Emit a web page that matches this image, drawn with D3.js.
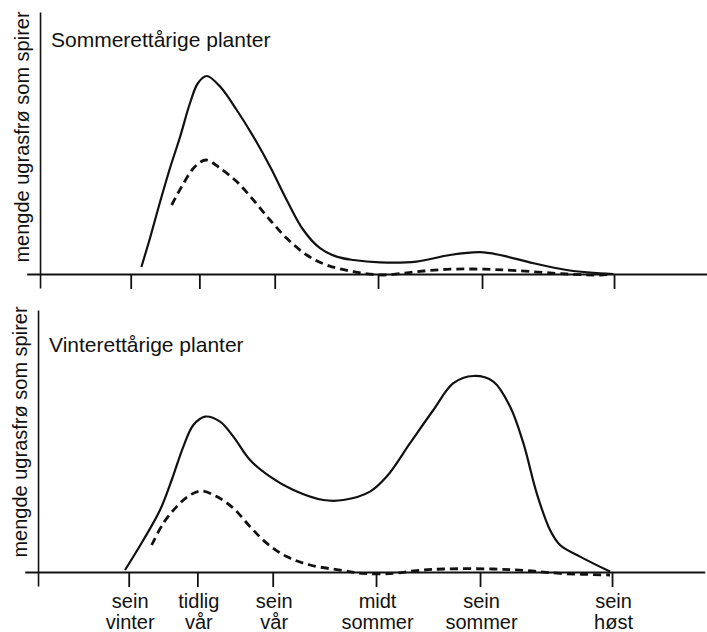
<!DOCTYPE html>
<html>
<head>
<meta charset="utf-8">
<script src="https://cdn.jsdelivr.net/npm/d3@7"></script>
<style>
  body { margin: 0; background: #fff; }
  svg { display: block; font-family: "Liberation Sans", Arial, Helvetica, sans-serif; }
</style>
</head>
<body>
<div id="chart"></div>
<script>
// season ticks (x in arbitrary season units 0..100)
const tickPos   = [13.6, 23.9, 35.2, 50.7, 66.3, 86.1];
const tickLine1 = ['sein', 'tidlig', 'sein', 'midt', 'sein', 'sein'];
const tickLine2 = ['vinter', 'vår', 'vår', 'sommer', 'sommer', 'høst'];

const yLabel = 'mengde ugrasfrø som spirer';

// Sommerettårige planter: [season, amount]
const summerTotal = [
  [15.2, 3.5], [16.5, 18], [18.0, 36], [19.5, 53], [21.0, 68.5], [22.5, 85.5],
  [23.7, 95.5], [25.0, 99], [27.0, 93.7], [29.5, 82], [32.0, 68.7], [34.5, 53.7],
  [37.0, 37], [39.5, 22], [42.0, 12.9], [44.5, 8.7], [47.0, 7], [51.0, 5.8],
  [56.5, 6.2], [61.5, 9.5], [66.0, 10.9], [69.0, 9.5], [74.0, 5.4], [79.0, 2],
  [84.0, 0.3], [86.0, 0]
];
const summerDashed = [
  [19.75, 34.5], [21.25, 43.7], [23.25, 53.7], [24.9, 57], [27.0, 52.9], [29.5, 46.2],
  [32.0, 37], [34.5, 27], [37.0, 17.9], [40.0, 9.5], [43.0, 4.5], [47.0, 1.2],
  [51.5, -0.5], [56.5, 1.2], [61.5, 2.4], [66.5, 2.4], [71.5, 1.7], [79.0, 0],
  [84.0, -0.5], [85.8, 0]
];

// Vinterettårige planter
const winterTotal = [
  [13.05, 1], [15.8, 16], [18.3, 31], [20.05, 46], [21.8, 62.7], [23.3, 73.5],
  [25.05, 77.7], [27.3, 75.2], [29.3, 67.7], [31.8, 56], [34.8, 47.7], [38.3, 41],
  [42.8, 36], [45.8, 36], [49.8, 40.2], [52.3, 47.7], [55.8, 64.4], [59.3, 81],
  [62.3, 94.4], [65.3, 98], [68.3, 95.2], [70.8, 82.7], [72.8, 64.4], [74.8, 39.4],
  [76.8, 21], [78.3, 13.5], [81.3, 7.7], [85.8, 0.2]
];
const winterDashed = [
  [17.05, 13.5], [18.8, 24.4], [20.8, 32.7], [22.8, 38.5], [24.55, 40.5], [26.8, 37.7],
  [29.3, 31.9], [31.8, 22.7], [34.3, 14.4], [37.3, 7.7], [40.8, 3.5], [45.8, 0.7],
  [48.8, -0.7], [53.3, -0.7], [56.8, 0.7], [60.8, 1.5], [68.3, 1.5], [73.3, 0.7],
  [78.3, -0.7], [85.8, -1.5]
];

const width = 707, height = 632;

const svg = d3.select('#chart').append('svg')
  .attr('width', width)
  .attr('height', height);

const x = d3.scaleLinear().domain([-2, 100]).range([26.7, 706.7]);

function drawPanel(p) {
  const y = d3.scaleLinear().domain([-7, 131]).range([p.base + 14, p.base - 262]);
  const g = svg.append('g').attr('transform', `translate(${p.dx},0)`);

  // y axis (no ticks)
  g.append('g')
    .attr('transform', `translate(${x(0)},0)`)
    .call(d3.axisLeft(y).tickValues([]).tickSizeOuter(0))
    .select('.domain')
      .attr('stroke', '#111')
      .attr('stroke-width', 1.6);

  // x axis
  const xa = g.append('g')
    .attr('transform', `translate(0,${y(0)})`)
    .call(d3.axisBottom(x).tickValues(tickPos).tickSize(15).tickSizeOuter(0).tickFormat(''));
  xa.select('.domain').attr('stroke', '#111').attr('stroke-width', 1.8);
  xa.selectAll('.tick line').attr('stroke', '#111').attr('stroke-width', 1.8);

  if (p.labels) {
    xa.selectAll('.tick text').remove();
    xa.selectAll('.tick').each(function(d, i) {
      const t = d3.select(this).append('text')
        .attr('fill', '#111')
        .attr('font-size', 20)
        .attr('text-anchor', 'middle')
        .attr('x', 1)
        .attr('y', 36);
      t.append('tspan').attr('x', 1).text(tickLine1[i]);
      t.append('tspan').attr('x', 1).attr('dy', 21).text(tickLine2[i]);
    });
  }

  // y label
  g.append('text')
    .attr('transform', `translate(29,${p.labelY}) rotate(-90)`)
    .attr('text-anchor', 'middle')
    .attr('font-size', 20)
    .attr('fill', '#111')
    .text(yLabel);

  // title
  g.append('text')
    .attr('x', 51)
    .attr('y', p.titleY)
    .attr('font-size', 21)
    .attr('fill', '#111')
    .text(p.title);

  const line = d3.line()
    .x(d => x(d[0]))
    .y(d => y(d[1]))
    .curve(d3.curveCatmullRom.alpha(0.5));

  g.append('path')
    .datum(p.total)
    .attr('fill', 'none')
    .attr('stroke', '#111')
    .attr('stroke-width', 2.2)
    .attr('d', line);

  g.append('path')
    .datum(p.dashed)
    .attr('fill', 'none')
    .attr('stroke', '#111')
    .attr('stroke-width', 2.8)
    .attr('stroke-dasharray', '8,5')
    .attr('d', line);
}

drawPanel({ base: 274, dx: 0, title: 'Sommerettårige planter', titleY: 47,
  labelY: 137, total: summerTotal, dashed: summerDashed, labels: false });

drawPanel({ base: 572, dx: -2, title: 'Vinterettårige planter', titleY: 352,
  labelY: 432, total: winterTotal, dashed: winterDashed, labels: true });
</script>
</body>
</html>
